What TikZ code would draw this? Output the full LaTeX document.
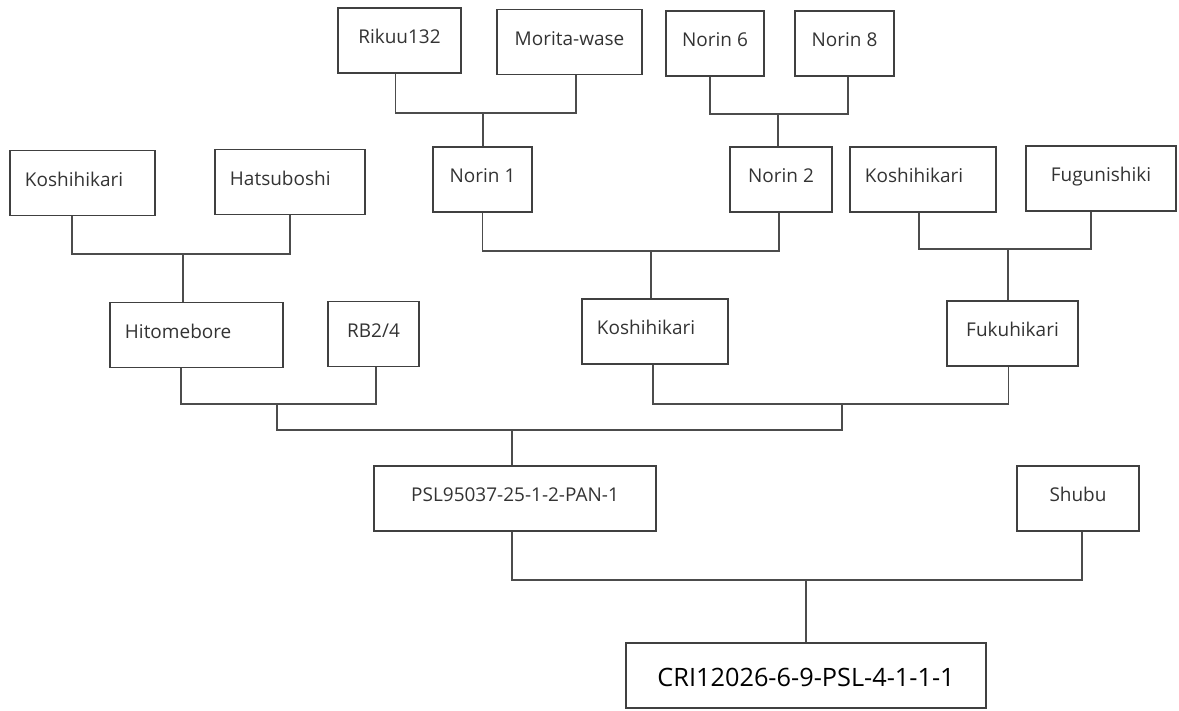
\documentclass[tikz,border=0pt]{standalone}
\usepackage{fontspec}
\setmainfont{Open Sans}
\begin{document}
\begin{tikzpicture}[x=0.025cm, y=-0.025cm]
    \tikzset{pbox/.style={draw=black!75, line width=1.2pt, minimum height=1.625cm, inner xsep=0.375cm, inner ysep=0pt, text height=0.36cm, text depth=0.2cm, text=black!80, font=\fontsize{13.5}{16}\selectfont}}
    \tikzset{lbox/.style={pbox, align=left}}
    \tikzset{link/.style={draw=black!70, line width=1.2pt}}
    \useasboundingbox (0,0) rectangle (1179,711);
    \node[pbox, minimum width=3.075cm] (rik) at (399.5,40.5) {Rikuu132};
    \node[pbox, minimum width=3.625cm] (mor) at (569.5,42) {Morita-wase};
    \node[pbox, minimum width=2.45cm] (n6) at (715,43.5) {Norin 6};
    \node[pbox, minimum width=2.475cm] (n8) at (844.5,43.5) {Norin 8};
    \node[lbox, text width=2.875cm] (kosl) at (82.5,183) {Koshihikari};
    \node[lbox, text width=3.0cm] (hat) at (290,182) {Hatsuboshi};
    \node[pbox, minimum width=2.475cm] (n1) at (482.5,179.5) {Norin 1};
    \node[pbox, minimum width=2.55cm] (n2) at (781,179.5) {Norin 2};
    \node[lbox, text width=2.9cm] (kosr) at (923,179.5) {Koshihikari};
    \node[pbox, minimum width=3.75cm] (fug) at (1101,178.5) {Fugunishiki};
    \node[lbox, text width=3.575cm] (hit) at (196.5,335) {Hitomebore};
    \node[pbox, minimum width=2.275cm] (rb) at (373.5,334) {RB2/4};
    \node[lbox, text width=2.9cm] (kosm) at (655,331.5) {Koshihikari};
    \node[pbox, minimum width=3.275cm] (fuk) at (1012.5,333.5) {Fukuhikari};
    \node[pbox, minimum width=7.05cm] (psl) at (515,498.5) {PSL95037-25-1-2-PAN-1};
    \node[pbox, minimum width=3.05cm] (shu) at (1078,498.5) {Shubu};
    \node[pbox, minimum width=9.0cm, text=black, text height=0.55cm, text depth=0pt, font=\fontsize{18}{22}\selectfont] (cri) at (806,675.5) {CRI12026-6-9-PSL-4-1-1-1};
    \coordinate (j1) at (483,113);
    \coordinate (j2) at (778,114);
    \coordinate (j3) at (183,254);
    \coordinate (j4) at (651,251);
    \coordinate (j5) at (1008,249);
    \coordinate (j6) at (277,404);
    \coordinate (j7) at (842,404);
    \coordinate (j8) at (512,430);
    \coordinate (j9) at (806,580);
    \draw[link] ([xshift=-0.1cm]rik.south) |- (j1) -| ([xshift=0.16cm]mor.south);
    \draw[link] (j1) -- (j1 |- n1.north);
    \draw[link] ([xshift=-0.125cm]n6.south) |- (j2) -| ([xshift=0.09cm]n8.south);
    \draw[link] (j2) -- (j2 |- n2.north);
    \draw[link] ([xshift=-0.26cm]kosl.south) |- (j3) -| (hat.south);
    \draw[link] (j3) -- (j3 |- hit.north);
    \draw[link] (n1.south) |- (j4) -| ([xshift=-0.05cm]n2.south);
    \draw[link] (j4) -- (j4 |- kosm.north);
    \draw[link] ([xshift=-0.1cm]kosr.south) |- (j5) -| ([xshift=-0.25cm]fug.south);
    \draw[link] (j5) -- (j5 |- fuk.north);
    \draw[link] ([xshift=-0.39cm]hit.south) |- (j6) -| ([xshift=0.06cm]rb.south);
    \draw[link] ([xshift=-0.05cm]kosm.south) |- (j7) -| ([xshift=-0.1cm]fuk.south);
    \draw[link] (j6) |- (j8) -| (j7);
    \draw[link] (j8) -- (j8 |- psl.north);
    \draw[link] ([xshift=-0.075cm]psl.south) |- (j9) -| ([xshift=0.1cm]shu.south);
    \draw[link] (j9) -- (j9 |- cri.north);
\end{tikzpicture}
\end{document}
